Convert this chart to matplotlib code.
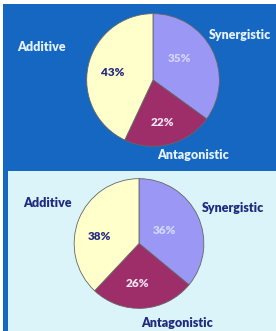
import matplotlib
matplotlib.use("Agg")
import matplotlib.pyplot as plt
from matplotlib.patches import Rectangle

categories = ["Synergistic", "Antagonistic", "Additive"]
top_values = [35, 22, 43]
bottom_values = [36, 26, 38]

W, H = 276, 331
DPI = 100
fig = plt.figure(figsize=(W / DPI, H / DPI), dpi=DPI)
fig.patch.set_facecolor("white")

FONT = ["Lato", "DejaVu Sans"]
FS = 8.5
FS_LBL = 9
BLUE = "#1567C2"
LIGHT = "#DAF4FA"
COLORS = ["#9B98F5", "#9E2E6A", "#FFFFCC"]

bg = fig.add_axes([0, 0, 1, 1], zorder=-5)
bg.set_xlim(0, W)
bg.set_ylim(H, 0)
bg.set_axis_off()
bg.add_patch(Rectangle((3, 4), W - 3, H - 4, facecolor=BLUE, edgecolor="none"))
bg.add_patch(Rectangle((8, 171), W - 8, H - 171, facecolor=LIGHT, edgecolor="none"))


def pie_at(cx, cy, r, values, pct_pos, pct_colors):
    ax = fig.add_axes([(cx - r) / W, 1 - (cy + r) / H, 2 * r / W, 2 * r / H])
    ax.patch.set_visible(False)
    wedges, texts, autotexts = ax.pie(
        values, colors=COLORS, startangle=90, counterclock=False,
        autopct=lambda p: f"{p:.0f}%", pctdistance=0.6,
        wedgeprops=dict(edgecolor="#666666", linewidth=0.6),
        textprops=dict(family=FONT, fontweight="heavy", fontsize=FS))
    for t, (dx, dy), c in zip(autotexts, pct_pos, pct_colors):
        t.set_position((dx / r, dy / r))
        t.set_color(c)
    ax.set_xlim(-1.01, 1.01)
    ax.set_ylim(-1.01, 1.01)
    ax.set_axis_off()
    return ax


pie_at(153, 80, 67, top_values,
       [(27, 22), (9, -43), (-41, 8)],
       ["#D4D4FF", "#F4E4F4", "#262A80"])
pie_at(139, 243.5, 65.5, bottom_values,
       [(26, 13.5), (-2, -40.5), (-40, 7.5)],
       ["#D4D8FF", "#F4E4F4", "#262A80"])


def label(x, y, s, color):
    bg.text(x, y, s, ha="center", va="center", color=color,
            family=FONT, fontweight="heavy", fontsize=FS_LBL)


top_lbl = "#E4F2FF"
label(41, 47, "Additive", top_lbl)
label(240, 35, "Synergistic", top_lbl)
label(193, 155, "Antagonistic", top_lbl)

bot_lbl = "#1F2A80"
label(47, 203, "Additive", bot_lbl)
label(233, 208, "Synergistic", bot_lbl)
label(177, 323, "Antagonistic", bot_lbl)

fig.savefig("out.png", dpi=DPI, facecolor=fig.get_facecolor())
